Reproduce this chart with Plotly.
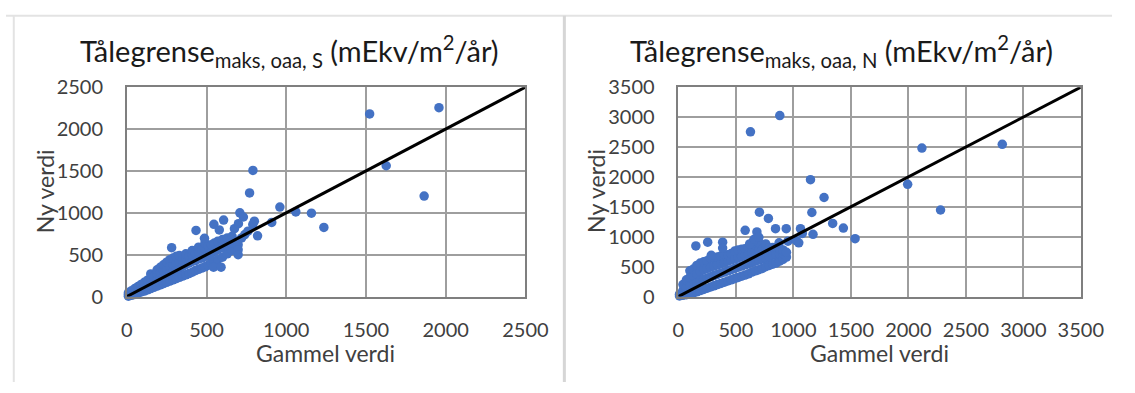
import plotly.graph_objects as go

# ---------------- data ----------------
# Left panel: Tålegrense maks, oaa, S  (old value -> new value)
s_old = [10, 10, 10, 30, 30, 30, 50, 50, 50, 70, 70, 70, 90, 90, 90,
         110, 110, 110, 130, 130, 130, 150, 150, 150, 150, 170, 170, 170,
         190, 190, 190, 190, 210, 210, 210, 210, 230, 230, 230, 230,
         250, 250, 250, 250, 270, 270, 270, 270, 290, 290, 290, 290,
         310, 310, 310, 310, 330, 330, 330, 330, 350, 350, 350,
         370, 370, 370, 370, 390, 390, 390, 410, 410, 410, 410, 430, 430, 430,
         450, 450, 450, 450, 470, 470, 470, 490, 490, 490, 490, 510, 510, 510,
         530, 530, 530, 550, 550, 550, 570, 570, 570, 600, 600, 600, 600,
         630, 630, 630, 660, 660, 660,
         281, 434, 487, 546, 580, 607, 675, 709, 731, 770, 791, 800, 820, 790,
         760, 740, 720, 909, 960, 1060, 1158, 1236, 1523, 1958, 1627, 1865,
         698, 698, 698, 544, 591, 700, 660, 520]
s_new = [5, 25, 45, 15, 45, 70, 25, 60, 95, 40, 80, 120, 55, 100, 145,
         65, 120, 170, 80, 140, 195, 95, 160, 220, 270, 110, 180, 245,
         125, 200, 270, 320, 140, 220, 290, 350, 155, 240, 310, 380,
         170, 260, 340, 410, 185, 280, 360, 440, 200, 300, 380, 460,
         215, 320, 400, 480, 230, 340, 420, 490, 245, 360, 440,
         260, 380, 460, 510, 275, 400, 480, 290, 420, 500, 550, 310, 430, 520,
         325, 450, 540, 590, 340, 460, 560, 355, 480, 580, 640, 375, 500, 600,
         400, 520, 620, 420, 540, 640, 440, 560, 660, 470, 580, 640, 680,
         510, 610, 700, 550, 640, 680,
         583, 790, 695, 863, 795, 913, 810, 1000, 950, 1238, 1506, 900, 725, 860,
         780, 740, 700, 885, 1068, 1010, 995, 826, 2180, 2255, 1562, 1200,
         620, 560, 500, 351, 351, 870, 720, 480]

# Right panel: Tålegrense maks, oaa, N  (old value -> new value)
n_old = [10, 10, 40, 40, 40, 70, 70, 70, 100, 100, 100, 100,
         130, 130, 130, 130, 160, 160, 160, 160, 190, 190, 190, 190,
         220, 220, 220, 220, 250, 250, 250, 250, 280, 280, 280, 280,
         310, 310, 310, 310, 340, 340, 340, 340, 370, 370, 370, 370,
         400, 400, 400, 400, 430, 430, 430, 430, 460, 460, 460, 460,
         490, 490, 490, 490, 520, 520, 520, 520, 550, 550, 550, 550,
         580, 580, 580, 580, 610, 610, 610, 610, 640, 640, 640,
         670, 670, 670, 670, 700, 700, 700, 700, 730, 730, 730,
         760, 760, 760, 760, 790, 790, 790, 820, 820, 820, 850, 850, 850,
         880, 880, 880, 910, 910, 910, 940, 940,
         882, 627, 2118, 2817, 1994, 2280, 1149, 1267, 1161, 1342, 1435, 1537,
         1171, 705, 783, 581, 152, 255, 385, 385, 652, 683, 845, 938, 1062,
         953, 1047, 1078, 876, 286, 1025, 620, 660, 700]
n_new = [10, 40, 20, 100, 200, 30, 150, 280, 40, 180, 320, 430,
         60, 200, 350, 460, 80, 230, 380, 520, 100, 260, 420, 560,
         120, 290, 450, 580, 140, 310, 470, 600, 160, 330, 490, 640,
         180, 350, 510, 650, 200, 370, 530, 660, 220, 390, 550, 680,
         240, 410, 570, 700, 260, 430, 590, 700, 280, 450, 610, 720,
         300, 470, 630, 760, 320, 490, 650, 780, 340, 510, 670, 790,
         360, 530, 690, 800, 380, 550, 710, 820, 410, 570, 730,
         430, 590, 750, 860, 450, 610, 770, 900, 470, 630, 790,
         500, 650, 800, 880, 520, 670, 810, 540, 690, 820, 560, 700, 820,
         590, 710, 800, 620, 720, 780, 660, 740,
         3025, 2753, 2482, 2544, 1876, 1447, 1954, 1656, 1405, 1223, 1144, 967,
         1040, 1411, 1306, 1108, 846, 909, 909, 810, 925, 1081, 1134, 1134, 1134,
         925, 899, 1055, 899, 690, 935, 880, 960, 990]

# 1:1 reference lines
s_line = [0, 2500]
n_line = [0, 3500]

assert len(s_old) == len(s_new) and len(n_old) == len(n_new)

titles = ["Tålegrense<sub>maks, oaa, S</sub> (mEkv/m<sup>2</sup>/år)",
          "Tålegrense<sub>maks, oaa, N</sub> (mEkv/m<sup>2</sup>/år)"]
x_title = "Gammel verdi"
y_title = "Ny verdi"

# ---------------- figure ----------------
W, H = 1135, 393
FONT = "Lato"
BLUE = "#4472C4"

def px(v):
    return v / W

def py(v):
    return 1 - v / H

fig = go.Figure()
fig.add_trace(go.Scatter(x=s_old, y=s_new, mode="markers", xaxis="x", yaxis="y",
                         marker=dict(color=BLUE, size=9.5), cliponaxis=False))
fig.add_trace(go.Scatter(x=s_line, y=s_line, mode="lines", xaxis="x", yaxis="y",
                         line=dict(color="black", width=3), cliponaxis=False))
fig.add_trace(go.Scatter(x=n_old, y=n_new, mode="markers", xaxis="x2", yaxis="y2",
                         marker=dict(color=BLUE, size=9.5), cliponaxis=False))
fig.add_trace(go.Scatter(x=n_line, y=n_line, mode="lines", xaxis="x2", yaxis="y2",
                         line=dict(color="black", width=3), cliponaxis=False))

GRID = "#9e9e9e"
tickfont = dict(family=FONT, size=20, color="#404040")

def xa(domain, rng, anchor):
    return dict(domain=domain, range=rng, dtick=500, tick0=0, anchor=anchor,
                showgrid=True, gridcolor=GRID, gridwidth=1.5,
                showline=True, linecolor="#7f7f7f", linewidth=1.5, mirror=True,
                zeroline=False, ticks="", tickfont=tickfont, ticklabelstandoff=15,
                fixedrange=True)

def ya(domain, rng, anchor):
    return dict(domain=domain, range=rng, dtick=500, tick0=0, anchor=anchor,
                showgrid=True, gridcolor=GRID, gridwidth=1.5,
                showline=True, linecolor="#7f7f7f", linewidth=1.5, mirror=True,
                zeroline=False, ticks="", tickfont=tickfont, ticklabelstandoff=18,
                fixedrange=True)

ydom = [py(302), py(79)]
fig.update_layout(
    width=W, height=H, autosize=False,
    margin=dict(l=0, r=0, t=0, b=0),
    paper_bgcolor="white", plot_bgcolor="white",
    showlegend=False,
    xaxis=xa([px(124), px(533)], [0, 2500], "y"),
    yaxis=ya(ydom, [0, 2500], "x"),
    xaxis2=xa([px(690), px(1103)], [0, 3500], "y2"),
    yaxis2=ya(ydom, [0, 3500], "x2"),
    font=dict(family=FONT, color="#262626"),
)

ann = []
for cx, t in zip([291, 857], titles):
    ann.append(dict(text=t, x=px(cx), y=py(40), xref="paper", yref="paper",
                    showarrow=False, xanchor="center", yanchor="middle",
                    font=dict(family=FONT, size=29, color="#1a1a1a")))
for cx in [328, 896]:
    ann.append(dict(text=x_title, x=px(cx), y=py(362), xref="paper", yref="paper",
                    showarrow=False, xanchor="center", yanchor="middle",
                    font=dict(family=FONT, size=23, color="#404040")))
for cx in [40, 606]:
    ann.append(dict(text=y_title, x=px(cx), y=py(190), xref="paper", yref="paper",
                    showarrow=False, xanchor="center", yanchor="middle", textangle=-90,
                    font=dict(family=FONT, size=23, color="#404040")))
fig.update_layout(annotations=ann)

FRAME = "#e3e3e3"
fig.update_layout(shapes=[
    dict(type="line", xref="paper", yref="paper", x0=0, x1=1, y0=py(3), y1=py(3),
         line=dict(color=FRAME, width=2)),
    dict(type="line", xref="paper", yref="paper", x0=px(8), x1=px(8), y0=0, y1=py(3),
         line=dict(color=FRAME, width=2)),
    dict(type="line", xref="paper", yref="paper", x0=px(573), x1=px(573), y0=0, y1=py(3),
         line=dict(color="#d6d6d6", width=3)),
])

fig.write_html("out.html")
